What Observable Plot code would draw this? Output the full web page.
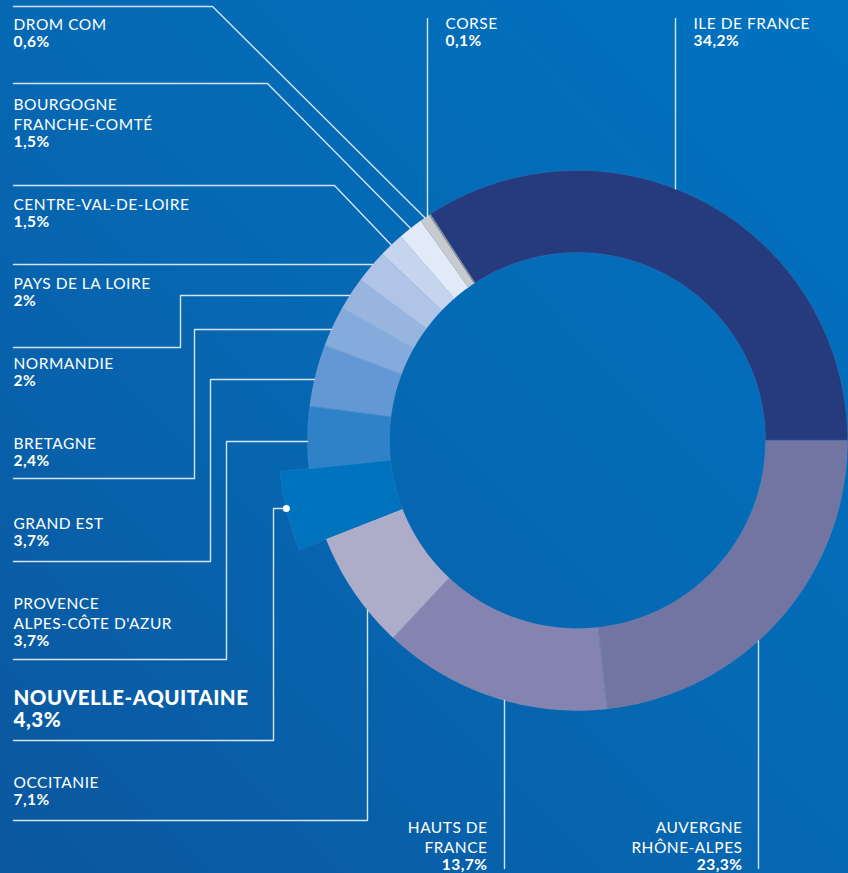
<!DOCTYPE html>
<html><head><meta charset="utf-8">
<script src="https://cdn.jsdelivr.net/npm/d3@7"></script>
<script src="https://cdn.jsdelivr.net/npm/@observablehq/plot@0.6"></script>
<style>
html,body{margin:0;padding:0;}
body{width:848px;height:873px;overflow:hidden;background:linear-gradient(to top right,#0b579e 0%,#0668b3 50%,#0072c0 100%);}
#chart svg{display:block;}
</style></head><body><div id="chart"></div>
<script>
// ---- data ----
const regions = ["ILE DE FRANCE","AUVERGNE\nRHÔNE-ALPES","HAUTS DE\nFRANCE","OCCITANIE","NOUVELLE-AQUITAINE","PROVENCE\nALPES-CÔTE D'AZUR","GRAND EST","BRETAGNE","NORMANDIE","PAYS DE LA LOIRE","CENTRE-VAL-DE-LOIRE","BOURGOGNE\nFRANCHE-COMTÉ","DROM COM","CORSE"];
const shares = [34.2,23.3,13.7,7.1,4.3,3.7,3.7,2.4,2,2,1.5,1.5,0.6,0.1];
const highlighted = "NOUVELLE-AQUITAINE";

// ---- styles ----
const sliceColors = ["#263b7e","#7274a2","#8584b0","#adadca","#0073bf","#2f82c8","#6398d4","#85abdc","#98b5df","#afc4e6","#c6d4ee","#e2e9f7","#c9cacf","#8d9096"];

// ---- layout ----
const W = 848, H = 873, CX = 577, CY = 440, R_OUT = 270, R_IN = 188, R_HI = 299;
const labelLayout = [
  {x:693, y:15,  path:[[675,18]], to:"v"},
  {x:742, y:819, anchor:"end",  path:[[758,868]], to:"v"},
  {x:487, y:819, anchor:"end",  path:[[504,868]], to:"v"},
  {x:13,  y:774, path:[[13,820],[367,820]], to:"v"},
  {x:13,  y:686, big:true, path:[[13,740],[273,740],[273,508]], to:"h", dot:true},
  {x:13,  y:595, path:[[13,659],[226,659],[226,441]], to:"h"},
  {x:13,  y:515, path:[[13,561],[210,561],[210,379]], to:"h"},
  {x:13,  y:435, path:[[13,478],[194,478],[194,329]], to:"h"},
  {x:13,  y:355, path:[[13,347],[180,347],[180,295]], to:"h"},
  {x:13,  y:275, path:[[13,264]], to:"h"},
  {x:13,  y:196, path:[[13,185],[334,185]], to:"mid"},
  {x:13,  y:96,  path:[[13,83],[267,83]], to:"mid"},
  {x:13,  y:16,  path:[[13,6],[212,6]], to:"mid"},
  {x:445, y:15,  path:[[427,18]], to:"v"}
];

const total = d3.sum(shares);
const start = Math.PI / 2 - 2 * Math.PI * shares[0] / total;
const arcs = d3.pie().sort(null).value(d => d).startAngle(start).endAngle(start + 2 * Math.PI)(shares);
const fmt = v => String(v).replace(".", ",") + "%";

// slice polygons
const slicePts = [];
arcs.forEach((a, i) => {
  const ro = regions[i] === highlighted ? R_HI : R_OUT;
  const n = Math.max(2, Math.ceil((a.endAngle - a.startAngle) / (Math.PI / 360)));
  for (let k = 0; k <= n; k++) {
    const t = a.startAngle + (a.endAngle - a.startAngle) * k / n;
    slicePts.push({region: regions[i], x: CX + ro * Math.sin(t), y: CY - ro * Math.cos(t)});
  }
  for (let k = n; k >= 0; k--) {
    const t = a.startAngle + (a.endAngle - a.startAngle) * k / n;
    slicePts.push({region: regions[i], x: CX + R_IN * Math.sin(t), y: CY - R_IN * Math.cos(t)});
  }
});

// leader lines
const leaderPts = [];
const dots = [];
labelLayout.forEach((L, i) => {
  const a = arcs[i];
  const ro = regions[i] === highlighted ? R_HI : R_OUT;
  L.path.forEach(([x, y]) => leaderPts.push({id: i, x, y}));
  const [lx, ly] = L.path[L.path.length - 1];
  let end;
  if (L.to === "v") {
    const d = Math.sqrt(ro * ro - (lx - CX) ** 2);
    end = [lx, ly < CY ? CY - d : CY + d];
  } else if (L.to === "h") {
    const d = Math.sqrt(ro * ro - (ly - CY) ** 2);
    end = [CX - d, ly];
  } else {
    const t = (a.startAngle + a.endAngle) / 2;
    end = [CX + ro * Math.sin(t), CY - ro * Math.cos(t)];
  }
  leaderPts.push({id: i, x: end[0], y: end[1]});
  if (L.dot) dots.push({x: end[0], y: end[1]});
});

// labels
const labels = regions.map((name, i) => {
  const L = labelLayout[i];
  const nLines = name.split("\n").length;
  const step = L.big ? 26 : 19.5;
  return {name, pct: fmt(shares[i]), x: L.x, y: L.y, py: L.y + nLines * step, anchor: L.anchor === "end" ? "end" : "start", big: !!L.big};
});
const norm = labels.filter(d => !d.big);
const startL = norm.filter(d => d.anchor === "start");
const endL = norm.filter(d => d.anchor === "end");
const bigL = labels.filter(d => d.big);

const txt = (data, opts) => [
  Plot.text(data, {x: "x", y: "y", text: "name", lineAnchor: "top", lineHeight: 1.26, fill: "white", ...opts}),
  Plot.text(data, {x: "x", y: "py", text: "pct", lineAnchor: "top", fill: "white", fontWeight: 700, ...opts})
];

const chart = Plot.plot({
  width: W, height: H, margin: 0,
  x: {domain: [0, W], range: [0, W], axis: null},
  y: {domain: [0, H], range: [0, H], axis: null},
  color: {type: "ordinal", domain: regions, range: sliceColors},
  style: {background: "transparent", color: "white", fontFamily: "Lato, sans-serif", letterSpacing: "0.5px"},
  marks: [
    Plot.line(slicePts, {x: "x", y: "y", z: "region", fill: "region", stroke: "rgba(255,255,255,0.12)", strokeWidth: 0.6, curve: "linear-closed"}),
    Plot.line(leaderPts, {x: "x", y: "y", z: "id", stroke: "#d3e4f4", strokeWidth: 1.4}),
    Plot.dot(dots, {x: "x", y: "y", r: 3.5, fill: "white", stroke: "none"}),
    ...txt(startL, {textAnchor: "start", fontSize: 15.5}),
    ...txt(endL, {textAnchor: "end", fontSize: 15.5}),
    ...txt(bigL, {textAnchor: "start", fontSize: 20.5, fontWeight: 900})
  ]
});
document.getElementById("chart").append(chart);
</script>
</body></html>
